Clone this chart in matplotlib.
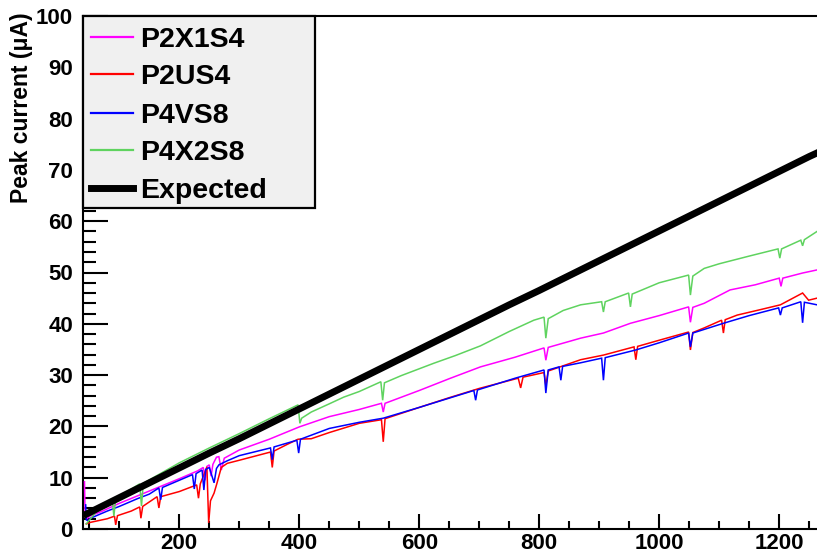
import matplotlib
matplotlib.use("Agg")
import matplotlib.pyplot as plt
from matplotlib.patches import Rectangle
from matplotlib.ticker import MultipleLocator

plt.rcParams['font.family'] = ['Liberation Sans', 'DejaVu Sans']
plt.rcParams['font.weight'] = 'bold'

# ---- measured peak current (uA) versus input ----
p2x1s4_x = [42, 43, 46, 52, 70, 100, 150, 200, 230, 240, 243, 246, 250, 253, 256, 262, 266, 270, 275,
            300, 350, 400, 450, 500, 537, 540, 543, 600, 650, 702, 760, 808, 811, 815, 869, 907, 952,
            1000, 1049, 1052, 1056, 1075, 1118, 1160, 1200, 1203, 1206, 1239, 1263]
p2x1s4_y = [9.2, 2.5, 2.0, 2.6, 3.4, 5.0, 7.4, 9.8, 11.3, 12.0, 9.5, 12.2, 12.5, 10.3, 12.6, 14.0, 14.1,
            11.5, 13.8, 15.4, 17.5, 19.9, 21.9, 23.3, 24.5, 22.8, 24.5, 27.0, 29.3, 31.6, 33.5, 35.3,
            32.9, 35.4, 37.2, 38.2, 40.1, 41.6, 43.3, 40.3, 43.2, 44.0, 46.6, 47.6, 48.9, 47.3, 48.9,
            49.9, 50.5]

p2us4_x = [45, 52, 80, 92, 94, 97, 120, 134, 136, 139, 163, 166, 169, 200, 229, 232, 235, 246, 249, 252,
           258, 263, 270, 280, 300, 352, 355, 358, 380, 398, 420, 450, 500, 537, 540, 543, 600, 650, 700,
           765, 769, 773, 808, 811, 815, 869, 907, 958, 961, 964, 1000, 1049, 1052, 1056, 1075, 1104,
           1107, 1110, 1130, 1170, 1202, 1239, 1249, 1263]
p2us4_y = [1.0, 1.3, 2.0, 2.5, 0.8, 2.6, 3.5, 4.3, 2.1, 4.4, 6.3, 4.1, 6.3, 7.3, 8.6, 6.0, 8.8, 12.1,
           1.2, 5.5, 7.0, 9.0, 12.0, 12.8, 13.4, 15.0, 12.0, 15.2, 16.5, 17.5, 17.6, 18.8, 20.6, 21.3,
           17.0, 21.5, 23.7, 25.6, 27.4, 29.4, 27.5, 29.6, 30.5, 28.0, 30.8, 33.0, 33.9, 35.5, 33.0,
           35.6, 36.8, 38.4, 34.9, 38.3, 39.2, 40.7, 38.2, 40.8, 41.7, 42.8, 43.7, 46.0, 44.6, 45.0]

p4vs8_x = [44, 45, 48, 52, 80, 100, 130, 150, 166, 169, 172, 200, 222, 225, 228, 238, 241, 244, 250, 258,
           262, 266, 280, 300, 352, 355, 358, 396, 399, 402, 450, 500, 540, 600, 691, 694, 697, 760, 808,
           811, 815, 833, 836, 839, 869, 904, 907, 910, 961, 1000, 1049, 1052, 1056, 1107, 1150, 1199,
           1202, 1205, 1236, 1239, 1242, 1263]
p4vs8_y = [4.7, 1.8, 1.6, 2.1, 3.5, 4.4, 5.9, 6.8, 8.0, 5.7, 8.1, 9.5, 10.6, 7.8, 10.8, 11.5, 7.6, 11.6,
           12.0, 9.0, 11.8, 12.5, 13.3, 14.3, 15.8, 13.5, 16.0, 17.3, 14.8, 17.5, 19.6, 20.8, 21.6, 23.7,
           27.0, 25.1, 27.1, 29.4, 31.0, 26.5, 31.0, 31.6, 29.0, 31.7, 32.4, 33.3, 29.0, 33.4, 34.9,
           36.3, 38.2, 35.5, 38.2, 40.1, 41.6, 43.1, 41.7, 43.1, 44.3, 40.2, 44.2, 43.7]

p4x2s8_x = [45, 52, 70, 88, 91, 94, 120, 134, 137, 140, 170, 200, 250, 300, 350, 398, 401, 404, 420, 450,
            474, 500, 536, 539, 542, 570, 624, 660, 702, 750, 791, 808, 811, 815, 840, 869, 904, 907,
            910, 949, 952, 955, 1000, 1049, 1052, 1056, 1075, 1100, 1150, 1198, 1201, 1204, 1236, 1239,
            1242, 1263]
p4x2s8_y = [1.0, 2.0, 4.5, 5.9, 2.5, 6.0, 7.8, 8.8, 4.5, 8.9, 10.9, 12.9, 15.8, 18.6, 21.5, 24.2, 20.6,
            21.6, 22.8, 24.4, 25.7, 26.8, 28.7, 25.1, 28.5, 29.9, 32.3, 33.8, 35.7, 38.5, 40.7, 41.3,
            37.2, 41.0, 42.6, 43.7, 44.3, 42.3, 44.3, 46.0, 43.3, 45.8, 48.0, 49.5, 45.6, 49.3, 50.8,
            51.7, 53.2, 54.6, 52.8, 54.6, 56.3, 55.2, 56.4, 58.0]

expected_x = [45, 100, 150, 200, 250, 300, 350, 400, 450, 500, 550, 600, 650, 700, 750, 800, 850, 900,
              950, 1000, 1050, 1100, 1150, 1200, 1250, 1263]
expected_y = [2.9, 6.1, 9.0, 11.9, 14.8, 17.6, 20.5, 23.4, 26.3, 29.2, 32.1, 35.0, 37.9, 40.8, 43.7,
              46.5, 49.4, 52.3, 55.2, 58.1, 61.0, 63.9, 66.8, 69.7, 72.6, 73.3]

series_names = ["P2X1S4", "P2US4", "P4VS8", "P4X2S8", "Expected"]
series_colors = ["#ff00ff", "#ff0000", "#0000ff", "#5fd35f", "#000000"]
series_widths = [1.1, 1.1, 1.1, 1.1, 5.0]
series_data = [(p2x1s4_x, p2x1s4_y), (p2us4_x, p2us4_y), (p4vs8_x, p4vs8_y),
               (p4x2s8_x, p4x2s8_y), (expected_x, expected_y)]

W, H, DPI = 817, 556, 100
fig = plt.figure(figsize=(W / DPI, H / DPI), dpi=DPI)
ax_l, ax_r, ax_t, ax_b = 82.7, 817, 16, 529
ax = fig.add_axes([ax_l / W, 1 - ax_b / H, (ax_r - ax_l) / W, (ax_b - ax_t) / H])

for (xs, ys), c, lw in zip(series_data, series_colors, series_widths):
    ax.plot(xs, ys, color=c, lw=lw, solid_joinstyle='miter', zorder=3)

ax.set_xlim(39, 1263)
ax.set_ylim(0, 100)

for s in ["left", "bottom", "top"]:
    ax.spines[s].set_linewidth(1.5)
ax.spines["right"].set_visible(False)

ax.xaxis.set_major_locator(MultipleLocator(200))
ax.xaxis.set_minor_locator(MultipleLocator(50))
ax.yaxis.set_major_locator(MultipleLocator(10))
ax.yaxis.set_minor_locator(MultipleLocator(2))
ax.tick_params(axis='x', which='major', direction='in', length=11, width=1.5,
               labelsize=16, pad=3, top=False)
ax.tick_params(axis='x', which='minor', direction='in', length=6, width=1.5, top=False)
ax.tick_params(axis='y', which='major', direction='in', length=18, width=1.5,
               labelsize=16, pad=7, right=False)
ax.tick_params(axis='y', which='minor', direction='in', length=9, width=1.5, right=False)
for lab in ax.get_xticklabels() + ax.get_yticklabels():
    lab.set_fontweight('bold')

fig.text(22 / W, 1 - 12 / H, "Peak current (μA)", rotation=90, ha='center', va='top',
         fontsize=16.5, fontweight='bold')

# legend box drawn in axes coordinates on top of the axis ticks
def px_to_axes(px, py):
    return (px - ax_l) / (ax_r - ax_l), (ax_b - py) / (ax_b - ax_t)

x0, y1 = px_to_axes(83, 16)
x1, y0 = px_to_axes(315, 208)
ax.add_patch(Rectangle((x0, y0), x1 - x0, y1 - y0, transform=ax.transAxes,
                       facecolor='#f0f0f0', edgecolor='black', lw=1.6, zorder=10,
                       clip_on=False))
row_py = [37, 74, 113, 150, 188]
for name, c, lw, py in zip(series_names, series_colors, series_widths, row_py):
    hx0, hy = px_to_axes(91, py)
    hx1, _ = px_to_axes(133, py)
    ax.plot([hx0, hx1], [hy, hy], transform=ax.transAxes, color=c,
            lw=(1.6 if lw < 2 else 5.0), zorder=11, clip_on=False)
    tx, _ = px_to_axes(140, py)
    ax.text(tx, hy, name, transform=ax.transAxes, ha='left', va='center_baseline',
            fontsize=20.5, fontweight='bold', zorder=12)

fig.savefig("out.png", dpi=DPI)
